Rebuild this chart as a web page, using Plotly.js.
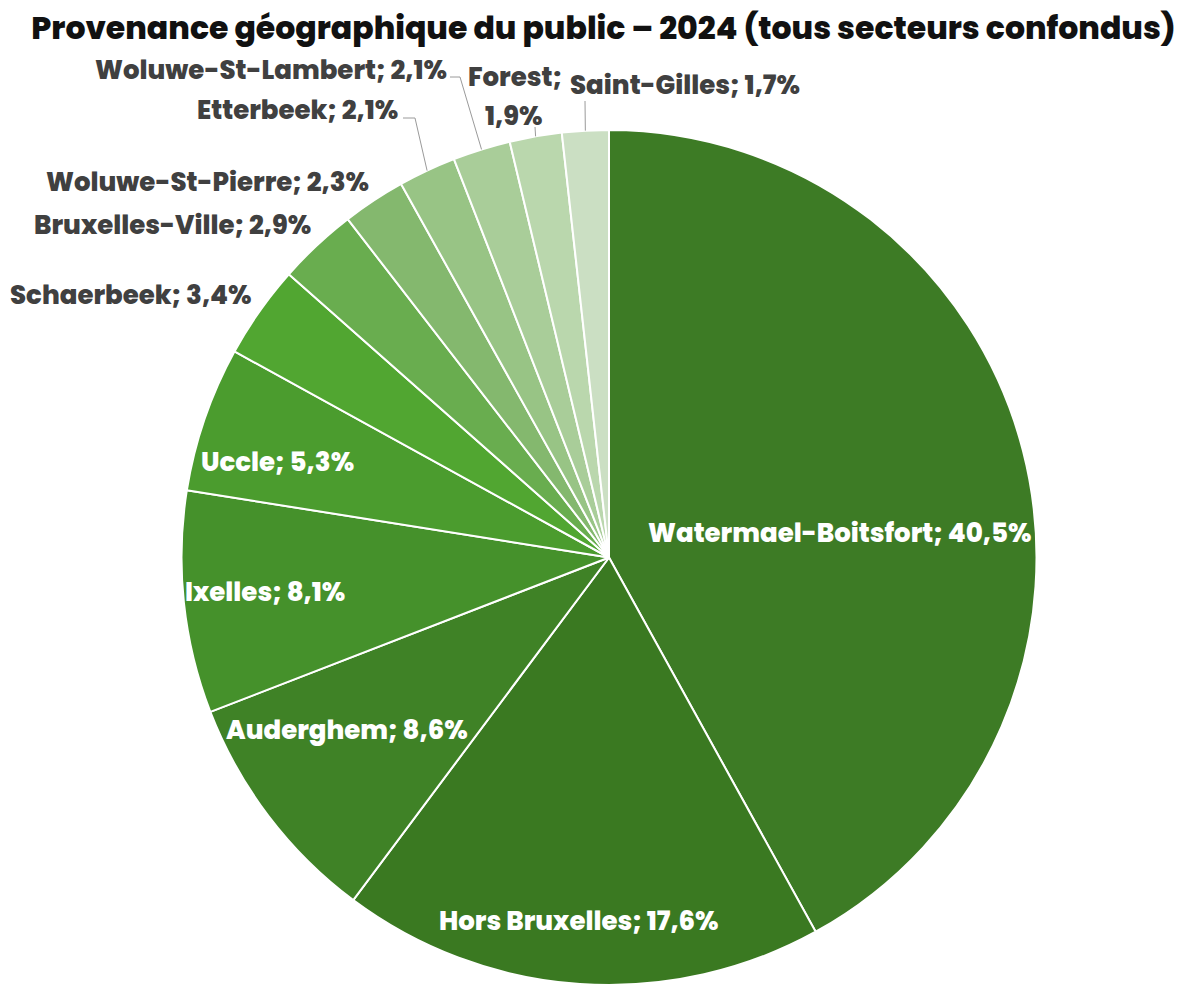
<!DOCTYPE html>
<html>
<head>
<meta charset="utf-8">
<script src="https://cdn.plot.ly/plotly-3.0.1.min.js"></script>
<style>html,body{margin:0;padding:0;background:#fff;overflow:hidden}#chart{width:1195px;height:985px}</style>
</head>
<body>
<div id="chart"></div>
<script>
// ---- data ----
const communes = ["Watermael-Boitsfort", "Hors Bruxelles", "Auderghem", "Ixelles", "Uccle", "Schaerbeek",
  "Bruxelles-Ville", "Woluwe-St-Pierre", "Etterbeek", "Woluwe-St-Lambert", "Forest", "Saint-Gilles"];
const shares = [40.5, 17.6, 8.6, 8.1, 5.3, 3.4, 2.9, 2.3, 2.1, 2.1, 1.9, 1.7];
const sliceColors = ["#3d7b25", "#3a7921", "#3f8226", "#45912b", "#4b9c2e", "#51a631",
  "#69ad4f", "#84b86e", "#98c485", "#a9cd99", "#bad7ad", "#cbdfc3"];
const chartTitle = "Provenance géographique du public – 2024 (tous secteurs confondus)";

// ---- layout/style (pixel positions of labels) ----
const W = 1195, H = 985;
const R = 427.5, CX = 609, CY = H - R;
const insideLabels = {
  "Watermael-Boitsfort": [840, 533],
  "Hors Bruxelles": [579, 921],
  "Auderghem": [347, 730],
  "Ixelles": [265, 592],
  "Uccle": [277, 462]
};
const outsideLabels = {
  "Schaerbeek": {pos: [131, 295]},
  "Bruxelles-Ville": {pos: [172, 225]},
  "Woluwe-St-Pierre": {pos: [207, 182]},
  "Etterbeek": {pos: [297, 110], line: [[403, 118], [415, 118]]},
  "Woluwe-St-Lambert": {pos: [271, 70], line: [[450, 77], [460, 77]]},
  "Forest": {pos: [515, 77], pos2: [514, 116], line: [[535, 127]]},
  "Saint-Gilles": {pos: [685, 85], line: [[585, 101]]}
};
const FONT = "Poppins, 'DejaVu Sans', sans-serif";
const LABEL_SIZE = 26;

const fmt = v => v.toFixed(1).replace(".", ",");
const px = x => x / W, py = y => 1 - y / H;

const annotations = [];
const shapes = [];
const total = shares.reduce((a, b) => a + b, 0);
let cum = 0;
const addText = (p, text, color) => annotations.push({x: px(p[0]), y: py(p[1]), xref: "paper", yref: "paper",
  showarrow: false, text: text, font: {family: FONT, size: LABEL_SIZE, color: color, weight: 800},
  xanchor: "center", yanchor: "middle", align: "center"});
communes.forEach((name, i) => {
  const mid = (cum + shares[i] / 2) / total * 2 * Math.PI;
  cum += shares[i];
  if (insideLabels[name]) {
    addText(insideLabels[name], `${name}; ${fmt(shares[i])}%`, "#ffffff");
  } else if (outsideLabels[name]) {
    const o = outsideLabels[name];
    if (o.pos2) {
      addText(o.pos, `${name};`, "#404040");
      addText(o.pos2, `${fmt(shares[i])}%`, "#404040");
    } else {
      addText(o.pos, `${name}; ${fmt(shares[i])}%`, "#404040");
    }
    if (o.line) {
      const ex = CX + R * Math.sin(mid), ey = CY - R * Math.cos(mid);
      const pts = o.line.concat([[ex, ey]]);
      const d = "M " + pts.map(p => `${px(p[0])} ${py(p[1])}`).join(" L ");
      shapes.push({type: "path", xref: "paper", yref: "paper", path: d, line: {color: "#9a9a9a", width: 1}});
    }
  }
});

const trace = {
  type: "pie",
  labels: communes,
  values: shares,
  sort: false,
  direction: "clockwise",
  rotation: 0,
  marker: {colors: sliceColors, line: {color: "#ffffff", width: 2}},
  textinfo: "none",
  hovertemplate: "%{label}; %{value:.1f}%<extra></extra>",
  domain: {x: [(CX - R) / W, (CX + R) / W], y: [0, 2 * R / H]},
  showlegend: false
};

const layout = {
  width: W, height: H,
  margin: {l: 0, r: 0, t: 0, b: 0},
  paper_bgcolor: "#ffffff",
  separators: ", ",
  title: {text: chartTitle, x: 0.505, xanchor: "center", y: 1 - 28 / H, yanchor: "middle",
    font: {family: FONT, size: 31.5, color: "#111111", weight: 800}},
  annotations: annotations,
  shapes: shapes
};

Plotly.newPlot("chart", [trace], layout, {displayModeBar: false, staticPlot: true});
</script>
</body>
</html>
